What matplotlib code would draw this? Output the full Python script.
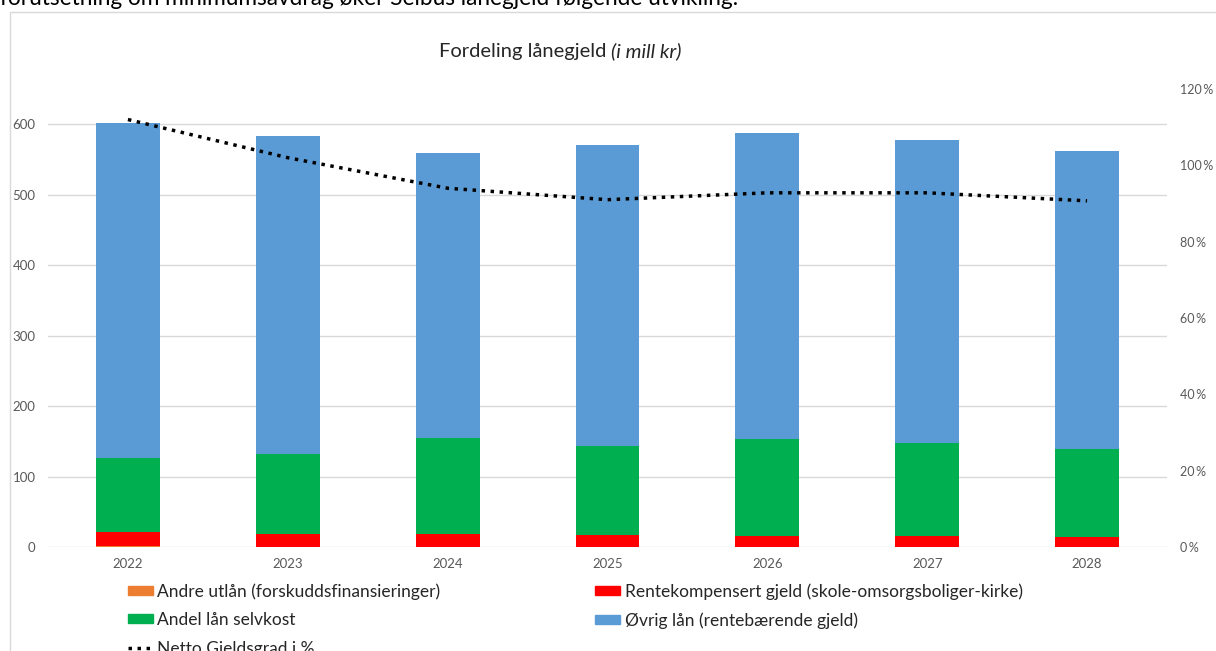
import numpy as np
import matplotlib.pyplot as plt
from matplotlib.patches import Rectangle
from matplotlib.lines import Line2D

plt.rcParams['font.family'] = ['Lato', 'DejaVu Sans']

# values (mill kr)
years = ['2022', '2023', '2024', '2025', '2026', '2027', '2028']
andre_utlan = [2, 0.5, 0.5, 0.5, 0.5, 0.5, 0.5]
rentekomp = [19, 18, 18, 16.5, 15.5, 15.5, 14]
selvkost = [106, 113, 136, 126, 137, 131, 124]
ovrig = [475, 452, 405, 427, 434, 431, 423]
netto_gjeldsgrad = [1.12, 1.02, 0.94, 0.91, 0.928, 0.928, 0.907]

c_orange = '#ed7d31'
c_red = '#ff0000'
c_green = '#00b050'
c_blue = '#5b9bd5'
grid_c = '#d9d9d9'
txt_c = '#595959'

fig = plt.figure(figsize=(12.16, 6.51), dpi=100)
ax = fig.add_axes([48/1216, 1-547/651, (1167-48)/1216, (547-89)/651])

x = np.arange(len(years))
w = 0.4
b1 = np.array(andre_utlan)
b2 = b1 + np.array(rentekomp)
b3 = b2 + np.array(selvkost)
ax.bar(x, andre_utlan, w, color=c_orange, zorder=3)
ax.bar(x, rentekomp, w, bottom=b1, color=c_red, zorder=3)
ax.bar(x, selvkost, w, bottom=b2, color=c_green, zorder=3)
ax.bar(x, ovrig, w, bottom=b3, color=c_blue, zorder=3)

ax.set_xlim(-0.5, len(years) - 0.5)
ax.set_ylim(0, 650)
ax.set_yticks(range(0, 601, 100))
ax.set_xticks(x)
ax.set_xticklabels(years)
ax.grid(axis='y', color=grid_c, lw=1, zorder=0)
for s in ax.spines.values():
    s.set_visible(False)
ax.tick_params(length=0, colors=txt_c, labelsize=9.5)
ax.tick_params(axis='y', pad=9)
ax.tick_params(axis='x', pad=8)

ax2 = ax.twinx()
ax2.plot(x, netto_gjeldsgrad, color='black', lw=2.5, linestyle=(0, (1, 1.6)),
         zorder=5)
ax2.set_ylim(0, 1.2)
ax2.set_yticks(np.arange(0, 1.21, 0.2))
ax2.set_yticklabels([f'{int(round(v*100))}\u2009%' for v in np.arange(0, 1.21, 0.2)])
for s in ax2.spines.values():
    s.set_visible(False)
ax2.tick_params(length=0, colors=txt_c, labelsize=9, pad=9)

ty = 1 - 57/651
fig.text(606/1216, ty, 'Fordeling lånegjeld', ha='right', va='baseline',
         fontsize=14.5, color='#262626')
fig.text(611/1216, ty, '(i mill kr)', ha='left', va='baseline',
         fontsize=14.5, color='#262626', style='italic')

# text above the chart, cut off at the top
fig.text(0.0, 1.003, 'forutsetning om minimumsavdrag øker Selbus lånegjeld følgende utvikling:',
         ha='left', va='center', fontsize=16.3, color='black')

# chart border
fig.patches.append(Rectangle((10/1216, -0.1), 1.1, 1 - 12/651 + 0.1,
                             transform=fig.transFigure, fill=False,
                             edgecolor=grid_c, lw=1))

h = [
    Rectangle((0, 0), 1, 1, color=c_orange),
    Rectangle((0, 0), 1, 1, color=c_green),
    Line2D([], [], color='black', lw=2.5, linestyle=(0, (1, 1.6))),
    Rectangle((0, 0), 1, 1, color=c_red),
    Rectangle((0, 0), 1, 1, color=c_blue),
]
labels = [
    'Andre utlån (forskuddsfinansieringer)',
    'Andel lån selvkost',
    'Netto Gjeldsgrad i %',
    'Rentekompensert gjeld (skole-omsorgsboliger-kirke)',
    'Øvrig lån (rentebærende gjeld)',
]
fig.legend(h, labels, ncol=2, loc='upper left', bbox_to_anchor=(121/1216, 1-576/651),
           frameon=False, fontsize=12.5, handlelength=1.45, handleheight=0.45,
           columnspacing=8.9, labelspacing=0.72, handletextpad=0.25,
           borderaxespad=0, labelcolor='#262626')

fig.savefig('out.png', dpi=100)
